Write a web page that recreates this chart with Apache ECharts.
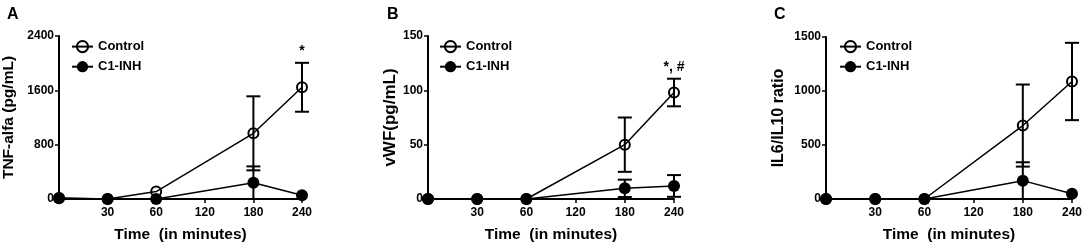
<!DOCTYPE html>
<html>
<head>
<meta charset="utf-8">
<script src="https://cdn.jsdelivr.net/npm/echarts@6/dist/echarts.min.js"></script>
<style>
html, body { margin: 0; padding: 0; background: #fff; }
#myChart { width: 1084px; height: 247px; }
</style>
</head>
<body>
<div id="myChart"></div>
<script>
// time points (the first one sits on the y axis and has no label)
var timeLabels = ['0', '30', '60', '120', '180', '240'];

// A: TNF-alfa (pg/mL)  mean / error
var tnfControl = [15, 0, 110, 967, 1645];
var tnfControlErr = [0, 0, 0, 545, 360];
var tnfInh = [10, 0, 0, 240, 54];
var tnfInhErr = [0, 0, 0, 240, 0];
var tnfMarks = ['', '', '', '', '*'];

// B: vWF (pg/mL)
var vwfControl = [0, 0, 0, 50, 98];
var vwfControlErr = [0, 0, 0, 25, 12.7];
var vwfInh = [0, 0, 0, 9.8, 12];
var vwfInhErr = [0, 0, 0, 8, 10];
var vwfMarks = ['', '', '', '', '*, #'];

// C: IL6/IL10 ratio
var ratioControl = [0, 0, 0, 680, 1088];
var ratioControlErr = [0, 0, 0, 380, 358];
var ratioInh = [0, 0, 0, 170, 49];
var ratioInhErr = [0, 0, 0, 170, 0];

// the five measured points are 0, 30, 60, 180, 240 -> category index
var pointIdx = [0, 1, 2, 4, 5];

var FONT = 'Liberation Sans';

//均值 -> [x, y]
function toPairs(vals) {
    var out = [];
    for (var i = 0; i < vals.length; i++) {
        out.push([pointIdx[i], vals[i]]);
    }
    return out;
}

//误差棒数据 [x, low, high, mark]
function toErr(vals, errs, marks) {
    var out = [];
    for (var i = 0; i < vals.length; i++) {
        var mark = marks ? marks[i] : '';
        if (errs[i] > 0 || mark) {
            out.push([pointIdx[i], vals[i] - errs[i], vals[i] + errs[i], mark]);
        }
    }
    return out;
}

function renderErrBar(params, api) {
    var x = api.value(0);
    var lo = api.coord([x, api.value(1)]);
    var hi = api.coord([x, api.value(2)]);
    var mark = api.value(3);
    var w = 7;
    var style = { stroke: '#000', lineWidth: 2 };
    var children = [];
    if (api.value(2) > api.value(1)) {
        children.push(
            { type: 'line', shape: { x1: lo[0], y1: lo[1], x2: hi[0], y2: hi[1] }, style: style },
            { type: 'line', shape: { x1: hi[0] - w, y1: hi[1], x2: hi[0] + w, y2: hi[1] }, style: style },
            { type: 'line', shape: { x1: lo[0] - w, y1: lo[1], x2: lo[0] + w, y2: lo[1] }, style: style }
        );
    }
    if (mark) {
        children.push({
            type: 'text',
            x: hi[0], y: hi[1] - 5,
            style: {
                text: mark, fill: '#000', align: 'center', verticalAlign: 'bottom',
                font: 'bold 14px "' + FONT + '"'
            }
        });
    }
    return { type: 'group', children: children };
}

function makeGrid(left, top, width, height) {
    return {
        left: left, top: top, width: width, height: height,
        containLabel: false,
        outerBoundsMode: 'none'
    };
}

function makeXAxis(idx) {
    return {
        gridIndex: idx,
        type: 'category',
        boundaryGap: false,
        data: timeLabels,
        name: 'Time  (in minutes)',
        nameLocation: 'middle',
        nameGap: 28,
        nameTextStyle: { fontFamily: FONT, fontWeight: 'bold', fontSize: 15.5, color: '#000' },
        axisLine: { show: true, lineStyle: { color: '#000', width: 2 } },
        axisTick: {
            show: true, length: 4, inside: false,
            interval: function (index) { return index > 0; },
            lineStyle: { color: '#000', width: 1.5 }
        },
        axisLabel: {
            interval: function (index) { return index > 0; },
            margin: 8,
            fontFamily: FONT, fontWeight: 'bold', fontSize: 12, color: '#000'
        },
        splitLine: { show: false }
    };
}

function makeYAxis(idx, name, max, interval, nameGap, nameSize) {
    return {
        gridIndex: idx,
        type: 'value',
        min: 0,
        max: max,
        interval: interval,
        name: name,
        nameLocation: 'middle',
        nameRotate: 90,
        nameGap: nameGap,
        nameTextStyle: { fontFamily: FONT, fontWeight: 'bold', fontSize: nameSize, color: '#000' },
        axisLine: { show: true, lineStyle: { color: '#000', width: 2 } },
        axisTick: { show: true, length: 4, lineStyle: { color: '#000', width: 1.5 } },
        axisLabel: {
            margin: 5,
            fontFamily: FONT, fontWeight: 'bold', fontSize: 12, color: '#000',
            formatter: function (value) {
                return String(value);
            }
        },
        splitLine: { show: false }
    };
}

function makeLine(idx, name, vals, open) {
    return {
        name: name,
        type: 'line',
        xAxisIndex: idx,
        yAxisIndex: idx,
        data: toPairs(vals),
        symbol: 'circle',
        symbolSize: open ? 10 : 12,
        z: 3,
        clip: false,
        lineStyle: { color: '#000', width: 1.5 },
        itemStyle: open
            ? { color: 'rgba(0,0,0,0)', borderColor: '#000', borderWidth: 2 }
            : { color: '#000', borderColor: '#000', borderWidth: 0 },
        emphasis: { disabled: true },
        animation: false
    };
}

function makeErr(idx, vals, errs, marks) {
    return {
        type: 'custom',
        xAxisIndex: idx,
        yAxisIndex: idx,
        data: toErr(vals, errs, marks),
        renderItem: renderErrBar,
        z: 2,
        clip: false,
        silent: true,
        animation: false
    };
}

function makeLegend(left) {
    return {
        orient: 'vertical',
        left: left,
        top: 35,
        itemWidth: 21,
        itemHeight: 14,
        itemGap: 7,
        data: ['Control', 'C1-INH'],
        textStyle: { fontFamily: FONT, fontWeight: 'bold', fontSize: 13, color: '#000' },
        selectedMode: false
    };
}

function makeTitle(text, left) {
    return {
        text: text, left: left, top: 2,
        textStyle: { fontFamily: FONT, fontWeight: 'bold', fontSize: 16, color: '#000' }
    };
}

var option = {
    backgroundColor: '#fff',
    animation: false,
    title: [makeTitle('A', 2), makeTitle('B', 382), makeTitle('C', 769)],
    legend: [makeLegend(66), makeLegend(434), makeLegend(834)],
    grid: [
        makeGrid(59, 36, 243, 163),
        makeGrid(428, 36, 246, 163),
        makeGrid(826, 37, 246, 162)
    ],
    xAxis: [makeXAxis(0), makeXAxis(1), makeXAxis(2)],
    yAxis: [
        makeYAxis(0, 'TNF-alfa (pg/mL)', 2400, 800, 42, 15.5),
        makeYAxis(1, 'vWF(pg/mL)', 150, 50, 28, 17),
        makeYAxis(2, 'IL6/IL10 ratio', 1500, 500, 39, 16)
    ],
    series: [
        makeErr(0, tnfControl, tnfControlErr, tnfMarks),
        makeErr(0, tnfInh, tnfInhErr, null),
        makeLine(0, 'Control', tnfControl, true),
        makeLine(0, 'C1-INH', tnfInh, false),

        makeErr(1, vwfControl, vwfControlErr, vwfMarks),
        makeErr(1, vwfInh, vwfInhErr, null),
        makeLine(1, 'Control', vwfControl, true),
        makeLine(1, 'C1-INH', vwfInh, false),

        makeErr(2, ratioControl, ratioControlErr, null),
        makeErr(2, ratioInh, ratioInhErr, null),
        makeLine(2, 'Control', ratioControl, true),
        makeLine(2, 'C1-INH', ratioInh, false)
    ]
};

var myChart = echarts.init(document.getElementById('myChart'));
myChart.setOption(option);
</script>
</body>
</html>
